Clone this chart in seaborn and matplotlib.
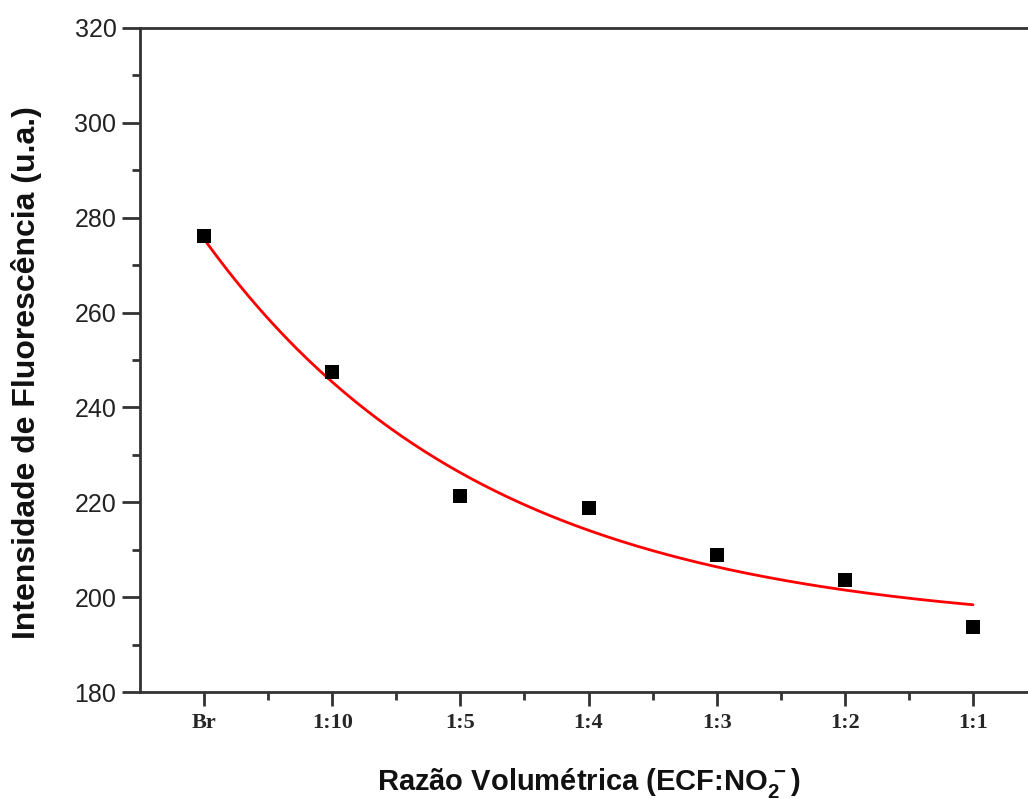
import numpy as np
import pandas as pd
import matplotlib
matplotlib.use("Agg")
import matplotlib.pyplot as plt
from matplotlib.ticker import MultipleLocator, FixedLocator
import seaborn as sns

# ---- data ----
categories = ["Br", "1:10", "1:5", "1:4", "1:3", "1:2", "1:1"]
intensity = [276.2, 247.4, 221.3, 218.9, 208.8, 203.7, 193.6]
# exponential-decay fit parameters (y = y0 + A*exp(-x/t))
fit_y0 = 193.0
fit_A = 82.5
fit_t = 2.2

sns.set_theme(style="white")
plt.rcParams['font.family'] = ['Liberation Sans', 'DejaVu Sans']
plt.rcParams['mathtext.fontset'] = 'custom'
plt.rcParams['mathtext.rm'] = 'Liberation Sans:bold'
plt.rcParams['mathtext.it'] = 'Liberation Sans:bold'
plt.rcParams['mathtext.bf'] = 'Liberation Sans:bold'

fig = plt.figure(figsize=(10.28, 7.99), dpi=100)
ax = fig.add_axes([140/1028, (799-692)/799, (1037-140)/1028, (692-28)/799])

xpos = np.arange(len(categories))
df = pd.DataFrame({"x": xpos, "y": intensity})
xf = np.linspace(xpos[0], xpos[-1], 200)
fit = pd.DataFrame({"x": xf, "y": fit_y0 + fit_A * np.exp(-xf / fit_t)})

sns.lineplot(data=fit, x="x", y="y", ax=ax, color="#ff0000", linewidth=2.0, zorder=2)
sns.scatterplot(data=df, x="x", y="y", ax=ax, marker="s", s=90, color="black",
                edgecolor="black", linewidth=0, zorder=3)

ax.set_xlim(-0.5, 6.5)
ax.set_ylim(180, 320)
ax.xaxis.set_major_locator(FixedLocator(xpos))
ax.xaxis.set_minor_locator(FixedLocator(xpos[:-1] + 0.5))
ax.set_xticklabels(categories, fontfamily="Liberation Serif", fontweight="bold", fontsize=16)
ax.yaxis.set_major_locator(MultipleLocator(20))
ax.yaxis.set_minor_locator(MultipleLocator(10))
for lab in ax.get_yticklabels():
    lab.set_fontsize(18)
    lab.set_color("#222222")

ax.tick_params(axis="both", which="major", direction="out", length=10, width=2,
               color="#333333", bottom=True, left=True, pad=5)
ax.tick_params(axis="both", which="minor", direction="out", length=6, width=2,
               color="#333333", bottom=True, left=True)
ax.tick_params(axis="y", which="major", length=13, pad=4)

for side in ["left", "bottom", "top"]:
    ax.spines[side].set_visible(True)
    ax.spines[side].set_color("#333333")
    ax.spines[side].set_linewidth(2)
ax.spines["right"].set_visible(False)

ax.set_xlabel(r"Razão Volumétrica (ECF:NO$_2^{\,-}$)", fontsize=21, fontweight="bold",
              labelpad=24, color="#111111")
ax.set_ylabel("Intensidade de Fluorescência (u.a.)", fontsize=23, fontweight="bold",
              color="#111111")
ax.yaxis.set_label_coords(-0.109, 0.481)
ax.grid(False)

fig.savefig("out.png", dpi=100)
